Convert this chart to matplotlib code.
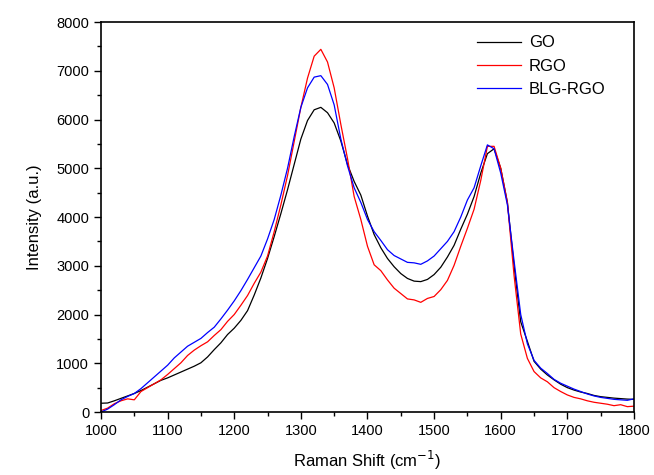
import matplotlib
matplotlib.use("Agg")
import matplotlib.pyplot as plt
from matplotlib.ticker import MultipleLocator

plt.rcParams["font.family"] = ["Liberation Sans", "DejaVu Sans"]

# Raman shift grid (cm^-1)
shift = list(range(1000, 1801, 10))

go = [180, 185, 230, 280, 330, 380, 440, 510, 580, 650,
      700, 760, 820, 880, 940, 1010, 1130, 1280, 1420, 1590,
      1720, 1880, 2080, 2400, 2750, 3150, 3600, 4070, 4560, 5080,
      5600, 5980, 6200, 6250, 6140, 5930, 5560, 5080, 4730, 4450,
      4020, 3640, 3370, 3150, 2980, 2840, 2740, 2685, 2675, 2720,
      2820, 2970, 3180, 3420, 3750, 4060, 4420, 4900, 5300, 5400,
      5000, 4300, 3000, 1850, 1450, 1040, 880, 760, 660, 570,
      500, 450, 410, 380, 340, 315, 300, 285, 275, 265, 260]

rgo = [30, 80, 170, 230, 270, 250, 420, 500, 580, 660,
       770, 890, 1010, 1160, 1270, 1360, 1440, 1570, 1690, 1860,
       2000, 2190, 2390, 2640, 2870, 3200, 3700, 4250, 4850, 5550,
       6250, 6850, 7300, 7440, 7180, 6650, 5900, 5200, 4420, 3950,
       3400, 3020, 2900, 2710, 2540, 2430, 2320, 2300, 2250, 2330,
       2370, 2510, 2700, 3010, 3400, 3770, 4160, 4750, 5450, 5450,
       5000, 4300, 2800, 1600, 1100, 830, 700, 620, 500, 420,
       350, 300, 270, 230, 200, 180, 160, 130, 150, 110, 120]

blg_rgo = [0, 60, 150, 250, 320, 380, 480, 600, 720, 840,
           960, 1110, 1230, 1350, 1430, 1510, 1630, 1740, 1910, 2090,
           2280, 2490, 2720, 2960, 3200, 3550, 3950, 4450, 5000, 5650,
           6250, 6650, 6870, 6900, 6720, 6300, 5600, 5050, 4600, 4300,
           3950, 3700, 3520, 3330, 3210, 3140, 3070, 3060, 3030, 3100,
           3200, 3350, 3500, 3700, 4000, 4350, 4600, 5050, 5480, 5400,
           4900, 4250, 3100, 2000, 1400, 1060, 900, 790, 670, 590,
           530, 470, 420, 370, 330, 300, 280, 260, 250, 240, 270]

labels = ["GO", "RGO", "BLG-RGO"]
colors = ["black", "#ff0000", "#0000ff"]

fig = plt.figure(figsize=(6.54, 4.75), dpi=100)
ax = fig.add_axes([0.1544, 0.1326, 0.815, 0.821])

for ys, lab, col in zip([go, rgo, blg_rgo], labels, colors):
    ax.plot(shift, ys, color=col, linewidth=0.9, label=lab)

ax.set_xlim(1000, 1800)
ax.set_ylim(0, 8000)
ax.xaxis.set_major_locator(MultipleLocator(100))
ax.xaxis.set_minor_locator(MultipleLocator(50))
ax.yaxis.set_major_locator(MultipleLocator(1000))
ax.yaxis.set_minor_locator(MultipleLocator(500))
ax.tick_params(which="both", direction="out", top=False, right=False,
               labelsize=10.5, width=1.0)
ax.tick_params(which="major", length=5)
ax.tick_params(which="minor", length=3)
for sp in ax.spines.values():
    sp.set_linewidth(1.2)

ax.set_xlabel("Raman Shift (cm$^{-1}$)", fontsize=12, labelpad=8)
ax.set_ylabel("Intensity (a.u.)", fontsize=12, labelpad=10)

ax.legend(loc="upper right", bbox_to_anchor=(0.972, 1.0), frameon=False,
          fontsize=12, handlelength=2.6, handletextpad=0.5,
          labelspacing=0.5, borderaxespad=0.4)

fig.savefig("out.png", dpi=100)
